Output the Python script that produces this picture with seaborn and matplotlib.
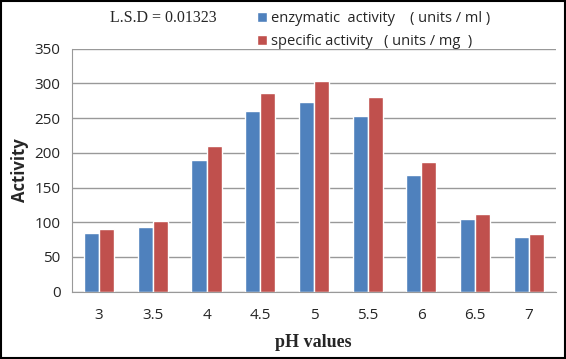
import matplotlib
matplotlib.use("Agg")
import matplotlib.pyplot as plt
import pandas as pd
import seaborn as sns

ph = ["3", "3.5", "4", "4.5", "5", "5.5", "6", "6.5", "7"]
enzymatic = [84.5, 93.5, 189, 260, 273.5, 253.5, 168, 104.5, 79]
specific = [90.5, 102, 210, 286, 304, 281, 187, 112.5, 83.5]
series = ["enzymatic  activity    ( units / ml )", "specific activity   ( units / mg  )"]

df = pd.DataFrame({
    "pH": ph * 2,
    "Activity": enzymatic + specific,
    "series": [series[0]] * len(ph) + [series[1]] * len(ph),
})

sns.set_style("white")
plt.rcParams["font.family"] = ["Open Sans", "DejaVu Sans"]

fig = plt.figure(figsize=(5.66, 3.59), dpi=100)
ax = fig.add_axes([0.1267, 0.1875, 0.855, 0.677])
sns.barplot(data=df, x="pH", y="Activity", hue="series", order=ph,
            palette=["#4F81BD", "#C0504D"], width=0.56, saturation=1,
            ax=ax, legend=True)

ax.set_ylim(0, 350)
ax.set_yticks(range(0, 351, 50))
ax.set_xlim(-0.51, 8.5)
ax.yaxis.grid(True, color="#999999", linewidth=1)
ax.set_axisbelow(True)
for s in ["top", "right"]:
    ax.spines[s].set_visible(False)
ax.spines["left"].set_color("#999999")
ax.spines["bottom"].set_color("#999999")
ax.tick_params(axis="y", length=4, color="#999999", labelsize=11, pad=4)
ax.tick_params(axis="x", length=0, labelsize=11, pad=12)
ax.set_ylabel("Activity", fontsize=12, fontweight="bold", labelpad=4)
ax.set_xlabel("pH values", fontsize=13, fontweight="bold",
              family=["Liberation Serif"], labelpad=8)

handles, labels = ax.get_legend_handles_labels()
ax.get_legend().remove()
fig.legend(handles, labels, loc="upper left", bbox_to_anchor=(0.43, 1.005),
           frameon=False, fontsize=10.5, handlelength=0.7, handleheight=0.7,
           handletextpad=0.3, labelspacing=0.55)

fig.text(0.195, 0.95, "L.S.D = 0.01323", family=["Liberation Serif"],
         fontsize=11.5, va="center")

fig.patches.append(plt.Rectangle((0.001, 0.002), 0.997, 0.995, transform=fig.transFigure,
                                 fill=False, edgecolor="black", linewidth=1.5))

fig.savefig("out.png", dpi=100)
